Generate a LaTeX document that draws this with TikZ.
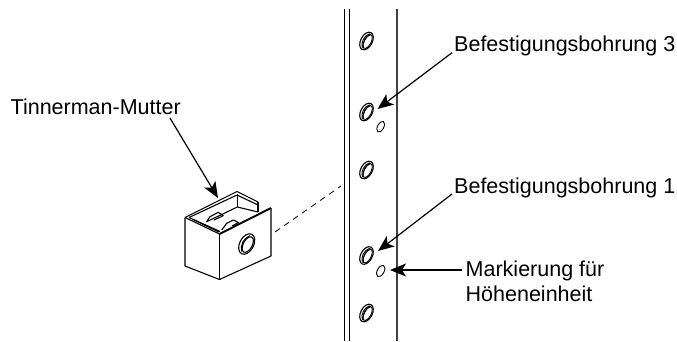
\documentclass[tikz,border=0pt]{standalone}
\usepackage{fontspec}
\setmainfont{Liberation Sans}
\usetikzlibrary{arrows.meta}
\tikzset{
  lbl/.style={anchor=base west,inner sep=0pt,font=\fontsize{21.5}{25}\selectfont},
  pointer/.style={draw=black,line width=1.2pt,-{Stealth[length=16pt,width=13pt,inset=4pt]}},
  rail/.style={draw=black,line width=0.9pt},
  nutline/.style={draw=black,line width=1.1pt,line join=round},
  heavy/.style={draw=black,line width=1.7pt,line join=round},
  hole/.style={draw=black,line width=0.9pt},
}
\newcommand{\rackhole}[2]{%
  \begin{scope}[shift={(#1,#2)},rotate=62]
    \draw[hole,fill=white,line width=1.1pt] (0,0) ellipse (9.5pt and 5.8pt);
    \draw[hole] (0,1.3) ellipse (7.5pt and 3.4pt);
    \draw[hole] (-8,-0.5) .. controls (-4,-4.6) and (4,-4.6) .. (8,-0.5);
    \draw[hole] (-8,0.5) .. controls (-4,-3) and (4,-3) .. (8,0.5);
  \end{scope}}
\begin{document}
\begin{tikzpicture}[x=1pt,y=-1pt]
\useasboundingbox (0,0) rectangle (677,341);
% rails
\coordinate (r1t) at (344.5,9); \coordinate (r1b) at (344.5,341);
\coordinate (r2t) at (349.3,9); \coordinate (r2b) at (349.3,341);
\coordinate (r3t) at (397,9);   \coordinate (r3b) at (397,341);
\draw[rail] (r1t) -- (r1b);
\draw[rail] (r2t) -- (r2b);
\draw[rail,line width=1.1pt,draw=black!75] (r3t) -- (r3b);
% holes
\rackhole{366.5}{41}
\rackhole{366.5}{112}
\rackhole{366.5}{170}
\rackhole{366.5}{255.5}
\rackhole{366.5}{313}
\draw[hole] (380.7,126.7) ellipse[x radius=5.8pt,y radius=3.1pt,rotate=62];
\draw[hole] (380.7,271) ellipse[x radius=6.2pt,y radius=3.4pt,rotate=62];
% nut
\coordinate (fl) at (185,217.5);
\coordinate (flb) at (185,266);
\coordinate (fm) at (219.5,234);
\coordinate (fmb) at (219.5,279.5);
\coordinate (fr) at (271,208);
\coordinate (frb) at (271,256);
% inside
\draw[nutline] (258,202) -- (258,212);
\draw[nutline] (237.3,194) -- (237.3,207);
\draw[nutline] (206.7,221.7) -- (237.3,207) -- (258,212);
\draw[nutline] (206.7,221.7) -- (210,216.7) -- (218.3,212.3) -- (223.3,215.7) -- (214,220);
\draw[nutline] (221.7,230) -- (226.7,223.3) -- (233.3,220) -- (238.5,222.5) -- (232,226);
\draw[nutline] (193,219.5) -- (219,232);
% outer
\draw[nutline] (fl) -- (flb) -- (fmb) -- (frb) -- (fr);
\draw[heavy] (fm) -- (fmb);
\draw[nutline,line width=1.9pt] (fm) -- (fr);
\draw[nutline] (fl) -- (237,191.5) -- (258,202);
\draw[nutline] (189,217.5) -- (237,195) -- (258,205);
\draw[nutline] (fl) -- (219.5,234);
\draw[nutline] (189,217.5) -- (220,231.5);
\begin{scope}[shift={(246.7,244)},rotate=62]
\draw[nutline] (0,0) ellipse (11pt and 7pt);
\draw[nutline] (0,1.2) ellipse (8.5pt and 4.5pt);
\draw[hole] (-9,-1) .. controls (-4,-5.5) and (4,-5.5) .. (9,-1);
\end{scope}
% dashed connector
\coordinate (dashA) at (275,232);
\coordinate (dashB) at (341,186);
\draw[draw=black,line width=0.8pt,dash pattern=on 6pt off 5pt] (dashA) -- (dashB);
% labels
\node[lbl] (t1) at (10.5,114) {Tinnerman-Mutter};
\node[lbl] (b3) at (454,51) {Befestigungsbohrung 3};
\node[lbl] (b1) at (454,193) {Befestigungsbohrung 1};
\node[lbl] (m1) at (465.5,276) {Markierung für};
\node[lbl] (m2) at (465.5,301.5) {Höheneinheit};
% arrows
\coordinate (a1s) at (170,118); \coordinate (a1e) at (218,198);
\coordinate (a2s) at (452,52.7); \coordinate (a2e) at (377.5,109);
\coordinate (a3s) at (452,194); \coordinate (a3e) at (378,251);
\coordinate (a4s) at (462,270); \coordinate (a4e) at (390,270);
\draw[pointer] (a1s) -- (a1e);
\draw[pointer] (a2s) -- (a2e);
\draw[pointer] (a3s) -- (a3e);
\draw[pointer] (a4s) -- (a4e);
\end{tikzpicture}
\end{document}
